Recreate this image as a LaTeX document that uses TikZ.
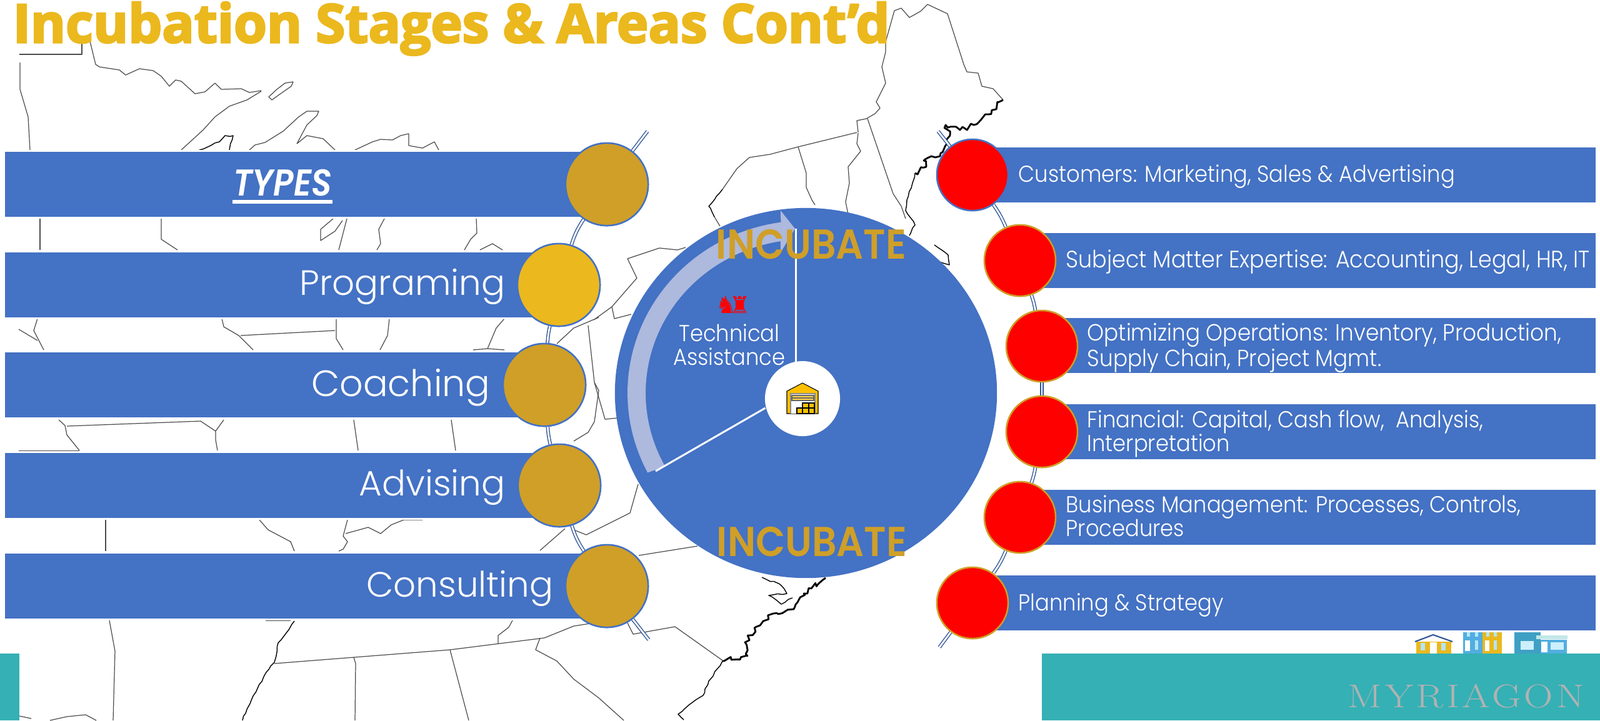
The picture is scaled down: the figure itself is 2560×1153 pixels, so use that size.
\documentclass[tikz,border=0pt]{standalone}
\usepackage{fontspec}
\usetikzlibrary{shapes.geometric,decorations.pathmorphing}
\setmainfont{Poppins Light}
\newfontfamily\titlefont[FakeBold=3.5]{Open Sans}
\newfontfamily\narrowfont[FakeStretch=0.915]{Poppins Light}
\newfontfamily\headfont[FakeStretch=0.92]{Poppins SemiBold}
\newfontfamily\headitfont[FakeStretch=0.89]{Poppins SemiBold Italic}
\newfontfamily\chessfont{DejaVu Sans}
\newfontfamily\logofont[LetterSpace=9,FakeStretch=1.22]{Latin Modern Roman}

\definecolor{barblue}{HTML}{4472C4}
\definecolor{chainblue}{HTML}{2F5597}
\definecolor{ochre}{HTML}{CF9F28}
\definecolor{sun}{HTML}{EBB81E}
\definecolor{amber}{HTML}{FFC000}
\definecolor{teal}{HTML}{35B0B5}
\definecolor{pale}{HTML}{ADB9DD}
\definecolor{housesky}{HTML}{52AEE0}
\definecolor{housedeep}{HTML}{3FA0C4}

\tikzstyle{mapline}=[black!70, line width=0.35pt, line join=round]
\tikzstyle{river}=[black, line width=0.4pt, line join=round, decorate, decoration={random steps, segment length=2pt, amplitude=0.4pt}]
\tikzstyle{coast}=[black, line width=0.8pt, line join=round, decorate, decoration={random steps, segment length=1.5pt, amplitude=1.1pt}]
\tikzstyle{chain}=[draw=chainblue, line width=0.4pt, double=white, double distance=0.8pt]
\tikzstyle{bar}=[rectangle, fill=barblue, draw=white, line width=0.8pt, inner sep=0pt]
\tikzstyle{bigbar}=[bar, minimum height=1.07cm, anchor=west]
\tikzstyle{smallbar}=[bar, minimum height=0.91cm, anchor=west]
\tikzstyle{leftdot}=[circle, fill=ochre, draw=barblue, line width=0.7pt, minimum size=1.32cm, inner sep=0pt]
\tikzstyle{rightdot}=[circle, fill=red, draw=ochre, line width=0.7pt, minimum size=1.14cm, inner sep=0pt]
\tikzstyle{bigtext}=[text=white, anchor=east, inner sep=0pt, font=\fontsize{16}{19}\selectfont]
\tikzstyle{smalltext}=[text=white, anchor=west, inner sep=0pt, align=left, font=\narrowfont\fontsize{10.5}{10.8}\selectfont]
\tikzstyle{stage}=[text=ochre, inner sep=0pt, font=\headfont\fontsize{19}{22}\selectfont]
\tikzstyle{crate}=[fill=amber, draw=black, line width=0.3pt]

\begin{document}
\begin{tikzpicture}[x=0.01cm, y=-0.01cm]
      \useasboundingbox (0,0) rectangle (2560,1153);

      \draw[mapline] (31,87) -- (131,87) -- (131,68);
      \draw[mapline] (143,62) -- (153,103) -- (159,107) -- (191,112) -- (201,120) -- (223,110) -- (245,113) -- (258,122) -- (271,138) -- (281,128) -- (290,130) -- (312,150) -- (328,147) -- (344,133) -- (354,143) -- (386,142) -- (399,148) -- (418,145);
      \draw[mapline] (418,146) -- (395,160) -- (367,170) -- (344,187) -- (325,208) -- (290,240);
      \draw[mapline] (469,131) -- (456,133) -- (443,143) -- (430,155) -- (435,160) -- (446,152) -- (466,138) -- cycle;
      \draw[mapline] (32,100) -- (32,143) -- (45,187) -- (48,240);
      \draw[river] (319,240) -- (351,227) -- (360,217) -- (373,217) -- (367,240);
      \draw[mapline] (399,240) -- (408,232) -- (424,228) -- (453,210) -- (478,187) -- (491,178) -- (510,178) -- (507,185) -- (491,200) -- (475,230) -- (491,217) -- (517,222) -- (536,240);
      \draw[mapline] (568,240) -- (596,227) -- (609,223) -- (628,224) -- (641,217) -- (654,214) -- (654,233) -- (676,237) -- (695,227) -- (702,240);
      \draw[mapline] (64,350) -- (64,400);
      \draw[mapline] (258,350) -- (258,383) -- (284,400);
      \draw[mapline] (555,350) -- (542,400);
      \draw[mapline] (533,350) -- (513,367) -- (513,385) -- (536,370) -- (548,353);
      \draw[mapline] (615,350) -- (606,367) -- (609,390) -- (603,400);
      \draw[mapline] (762,350) -- (763,373) -- (753,383) -- (743,400);
      \draw[mapline] (768,400) -- (788,390) -- (804,400);
      \draw[mapline] (60,510) -- (54,529) -- (70,560);
      \draw[mapline] (30,527) -- (60,545);
      \draw[mapline] (355,510) -- (358,523) -- (382,537) -- (405,560);
      \draw[mapline] (385,537) -- (536,529);
      \draw[mapline] (538,510) -- (538,542) -- (549,560);
      \draw[mapline] (623,510) -- (620,537) -- (608,560);
      \draw[mapline] (807,510) -- (794,525) -- (780,558);
      \draw[mapline] (757,560) -- (780,558) -- (807,560);
      \draw[mapline] (94,672) -- (104,681) -- (107,696) -- (127,721);
      \draw[mapline] (107,682) -- (321,674) -- (345,690);
      \draw[mapline] (358,672) -- (345,690) -- (345,704) -- (348,721);
      \draw[mapline] (566,672) -- (573,721);
      \draw[mapline] (722,672) -- (729,721);
      \draw[mapline] (30,722) -- (127,722);
      \draw[mapline] (169,832) -- (169,882);
      \draw[mapline] (415,832) -- (429,848) -- (465,867) -- (471,882);
      \draw[mapline] (556,832) -- (549,858) -- (556,867) -- (549,879) -- (542,882);
      \draw[mapline] (553,854) -- (589,844) -- (609,854) -- (626,840) -- (646,832) -- (676,832);
      \draw[mapline] (175,993) -- (184,1042) -- (181,1153);
      \draw[mapline] (425,993) -- (465,993);
      \draw[river] (471,994) -- (462,1008) -- (445,1029) -- (439,1060) -- (422,1083) -- (402,1121) -- (388,1153);
      \draw[mapline] (439,1062) -- (720,1040) -- (871,1021) -- (918,1002) -- (944,998);
      \draw[mapline] (566,1052) -- (569,1062) -- (568,1153);
      \draw[mapline] (720,1040) -- (750,1153);
      \draw[mapline] (864,1021) -- (857,1040) -- (891,1058) -- (918,1087) -- (958,1117) -- (998,1153);
      \draw[mapline] (797,1031) -- (797,1017) -- (814,1004) -- (820,993);
      \draw[mapline] (31,1146) -- (50,1150);
      \draw[mapline] (80,1153) -- (107,1147) -- (137,1144) -- (154,1153);
      \draw[mapline] (958,508) -- (918,525) -- (891,550);
      \draw[mapline] (941,521) -- (951,612) -- (968,671) -- (988,669);
      \draw[mapline] (951,612) -- (958,625) -- (951,675) -- (941,692) -- (918,706);
      \draw[mapline] (1021,775) -- (1008,821) -- (958,846) -- (938,856) -- (918,848);
      \draw[mapline] (904,846) -- (864,881);
      \draw[mapline] (950,512) -- (979,491) -- (1019,445) -- (1004,414) -- (1055,397) -- (1084,400) -- (1097,396);
      \draw[mapline] (979,491) -- (983,510) -- (1010,503);
      \draw[mapline] (1022,889) -- (1116,874);
      \draw[mapline] (1004,997) -- (1013,1015) -- (1080,1003) -- (1156,1057);
      \draw[coast] (1156,1058) -- (1196,1050) -- (1192,1028) -- (1219,997) -- (1237,982) -- (1270,975) -- (1286,950) -- (1321,925);
      \draw[river] (1156,1058) -- (1134,1090) -- (1125,1113) -- (1085,1143) -- (1094,1152);
      \draw[river] (1219,924) -- (1250,937) -- (1259,950) -- (1230,953) -- (1250,967) -- (1268,957);
      \draw[mapline] (1152,362) -- (1143,347);
      \draw[river] (1143,347) -- (1134,330) -- (1156,303);
      \draw[mapline] (1156,303) -- (1179,270) -- (1199,252) -- (1232,247) -- (1277,235) -- (1371,212);
      \draw[mapline] (1277,235) -- (1290,277) -- (1290,300) -- (1299,320) -- (1304,328);
      \draw[mapline] (1373,212) -- (1371,193) -- (1386,190) -- (1400,182) -- (1408,173) -- (1402,163) -- (1417,133) -- (1411,107) -- (1417,83) -- (1417,67) -- (1431,17) -- (1442,13) -- (1455,28) -- (1473,18) -- (1484,7) -- (1516,22) -- (1542,103) -- (1547,115) -- (1565,117) -- (1571,138) -- (1589,142) -- (1605,160);
      \draw[coast] (1605,160) -- (1580,183) -- (1558,200) -- (1536,208) -- (1513,200) -- (1520,217) -- (1504,250) -- (1478,257) -- (1482,267) -- (1464,277);
      \draw[river] (1464,277) -- (1460,293) -- (1451,320) -- (1449,337);
      \draw[river] (1449,337) -- (1464,360) -- (1455,377);
      \draw[mapline] (1388,190) -- (1429,310) -- (1442,330) -- (1449,350);
      \draw[mapline] (1373,213) -- (1371,230) -- (1377,242) -- (1357,267) -- (1359,293) -- (1353,323) -- (1357,343);
      \draw[river] (1495,392) -- (1517,408) -- (1519,424) -- (1499,416);
      \draw[mapline] (1504,424) -- (1528,445);

      \coordinate (ltop) at (1036,210);
      \coordinate (lbot) at (1038,1024);
      \coordinate (rtop) at (1501,210);
      \coordinate (rbot) at (1503,1036);

      \node[leftdot] (types) at (971,295) {};
      \node[leftdot, fill=sun] (prog) at (894,456) {};
      \node[leftdot] (coach) at (871,616) {};
      \node[leftdot] (advise) at (895,777) {};
      \node[leftdot] (consult) at (971,938) {};
      \node[rightdot, draw=barblue] (cust) at (1556,280) {};
      \node[rightdot] (subj) at (1632,417) {};
      \node[rightdot] (opt) at (1667,554) {};
      \node[rightdot] (fin) at (1667,691) {};
      \node[rightdot] (biz) at (1632,828) {};
      \node[rightdot] (plan) at (1556,965) {};

      \draw[chain] (ltop) to (types);
      \draw[chain, bend right=8] (types) to (prog);
      \draw[chain, bend right=4] (prog) to (coach);
      \draw[chain, bend right=4] (coach) to (advise);
      \draw[chain, bend right=8] (advise) to (consult);
      \draw[chain] (consult) to (lbot);
      \draw[chain] (rtop) to (cust);
      \draw[chain, bend left=6] (cust) to (subj);
      \draw[chain, bend left=4] (subj) to (opt);
      \draw[chain] (opt) to (fin);
      \draw[chain, bend left=4] (fin) to (biz);
      \draw[chain, bend left=6] (biz) to (plan);
      \draw[chain] (plan) to (rbot);

      \node[bigbar, minimum width=9.66cm] (typesbar) at (5,295) {};
      \node[bigbar, minimum width=8.89cm] (progbar) at (5,456) {};
      \node[bigbar, minimum width=8.66cm] (coachbar) at (5,616) {};
      \node[bigbar, minimum width=8.9cm] (advisebar) at (5,777) {};
      \node[bigbar, minimum width=9.66cm] (consultbar) at (5,938) {};
      \node[smallbar, minimum width=9.96cm] (custbar) at (1556,280) {};
      \node[smallbar, minimum width=9.2cm] (subjbar) at (1632,417) {};
      \node[smallbar, minimum width=8.85cm] (optbar) at (1667,553) {};
      \node[smallbar, minimum width=8.85cm] (finbar) at (1667,691) {};
      \node[smallbar, minimum width=9.2cm] (bizbar) at (1632,828) {};
      \node[smallbar, minimum width=9.96cm] (planbar) at (1556,965) {};

      \node[leftdot] at (types) {};
      \node[leftdot, fill=sun] at (prog) {};
      \node[leftdot] at (coach) {};
      \node[leftdot] at (advise) {};
      \node[leftdot] at (consult) {};
      \node[rightdot, draw=barblue] at (cust) {};
      \node[rightdot] at (subj) {};
      \node[rightdot] at (opt) {};
      \node[rightdot] at (fin) {};
      \node[rightdot] at (biz) {};
      \node[rightdot] at (plan) {};

      \node[text=white, inner sep=0pt, font=\headitfont\fontsize{17}{19}\selectfont] (typestext) at (452,293) {TYPES};
      \draw[white, line width=1.7pt] ([yshift=-0.08cm]typestext.south west) -- ([yshift=-0.08cm]typestext.south east);
      \node[bigtext] (progtext) at (809,459) {Programing};
      \node[bigtext, font=\fontsize{16.7}{19}\selectfont] (coachtext) at (785,620) {Coaching};
      \node[bigtext] (advisetext) at (809,780) {Advising};
      \node[bigtext] (consulttext) at (886,942) {Consulting};
      \node[smalltext] (custtext) at (1629,283) {Customers: Marketing, Sales \& Advertising};
      \node[smalltext, font=\narrowfont\fontsize{10.85}{10.8}\selectfont] (subjtext) at (1705,419) {Subject Matter Expertise: Accounting, Legal, HR, IT};
      \node[smalltext, font=\narrowfont\fontsize{10.65}{10.8}\selectfont] (opttext) at (1739,557) {Optimizing Operations: Inventory, Production,\\Supply Chain, Project Mgmt.};
      \node[smalltext] (fintext) at (1739,694) {Financial: Capital, Cash flow,~ Analysis,\\Interpretation};
      \node[smalltext] (biztext) at (1705,826) {Business Management: Processes, Controls,\\Procedures};
      \node[smalltext] (plantext) at (1629,969) {Planning \& Strategy};

      \node[ellipse, fill=barblue, minimum width=6.11cm, minimum height=5.92cm, inner sep=0pt] (wheel) at (1289.5,629) {};
      \fill[pale] plot[domain=207.5:98, samples=50] ({1289+285*cos(\x)},{629-276*sin(\x)}) -- (1249,337) -- (1272,366) -- (1249,404) -- plot[domain=99:208.5, samples=50] ({1289+256*cos(\x)},{629-246*sin(\x)}) -- cycle;
      \coordinate (spoketop) at (1273,366);
      \coordinate (spokebase) at (1273,590);
      \coordinate (spokelow) at (1049,754);
      \coordinate (spokehub) at (1224.5,653);
      \draw[white, line width=0.85pt] (spokebase) -- (spoketop);
      \draw[white, line width=0.85pt] (spokehub) -- (spokelow);
      \node[circle, fill=white, minimum size=1.2cm, inner sep=0pt] (hub) at (1284,638) {};
      \node[stage] (stagetop) at (1298,391) {INCUBATE};
      \node[stage] (stagelow) at (1299,867) {INCUBATE};
      \node[text=red, inner sep=0pt, font=\chessfont\fontsize{10.5}{10.5}\selectfont] (chess) at (1173,488) {\char"265E\kern-0.3em\char"265C};
      \node[text=white, inner sep=0pt, align=center, font=\narrowfont\fontsize{10.5}{10.8}\selectfont] (tech) at (1167,552) {Technical\\Assistance};

      \filldraw[fill=amber, draw=black, line width=0.3pt] (1259,662) -- (1259,626) -- (1284,613) -- (1309,626) -- (1309,662) -- cycle;
      \fill[black!45] (1264,629) rectangle (1305,662);
      \fill[white] (1266,631) rectangle (1303,662);
      \fill[amber!70!white] (1267,633) rectangle (1302,641);
      \draw[black!60, line width=0.3pt] (1267,633) rectangle (1302,641);
      \draw[black!60, line width=0.3pt] (1267,637) -- (1302,637);
      \filldraw[crate] (1275,653) rectangle (1284,662);
      \filldraw[crate] (1284,653) rectangle (1294,662);
      \filldraw[crate] (1294,653) rectangle (1303,662);
      \filldraw[crate] (1284,645) rectangle (1294,653);
      \filldraw[crate] (1294,645) rectangle (1303,653);

      \fill[teal] (0,1046) rectangle (31,1153);
      \fill[teal] (1667,1046) rectangle (2560,1153);
      \node[text=black!30, anchor=west, inner sep=0pt, font=\logofont\fontsize{15}{15}\selectfont] (logo) at (2156,1114) {MYRIAGON};

      \fill[sun] (2266,1027) rectangle (2322,1046);
      \draw[chainblue, line width=0.6pt] (2264,1027) -- (2293,1016) -- (2324,1027);
      \fill[white] (2288,1028) rectangle (2299,1046);
      \fill[cyan!30] (2273,1029) rectangle (2280,1041);
      \fill[cyan!30] (2306,1029) rectangle (2313,1041);
      \fill[housesky] (2341,1012) rectangle (2372,1046);
      \fill[sun] (2372,1012) rectangle (2403,1046);
      \fill[white] (2344,1025) rectangle (2352,1042);
      \fill[white] (2376,1025) rectangle (2383,1042);
      \fill[cyan!30] (2360,1025) rectangle (2365,1040);
      \fill[cyan!30] (2390,1025) rectangle (2395,1040);
      \fill[cyan!30] (2347,1012) rectangle (2352,1019);
      \fill[cyan!30] (2360,1012) rectangle (2365,1019);
      \fill[cyan!30] (2378,1012) rectangle (2383,1019);
      \fill[cyan!30] (2390,1012) rectangle (2395,1019);
      \fill[housedeep] (2423,1012) rectangle (2465,1046);
      \fill[housesky] (2465,1024) rectangle (2507,1046);
      \fill[teal!30] (2458,1017) rectangle (2508,1023);
      \fill[cyan!20] (2433,1026) rectangle (2454,1040);
      \fill[white] (2466,1027) rectangle (2476,1044);
      \fill[cyan!20] (2481,1028) rectangle (2502,1040);

      \node[text=sun, anchor=base west, inner sep=0pt, font=\titlefont\bfseries\fontsize{24.3}{28}\selectfont] (title) at (20,68) {Incubation Stages \& Areas Cont’d};
    \end{tikzpicture}
\end{document}
